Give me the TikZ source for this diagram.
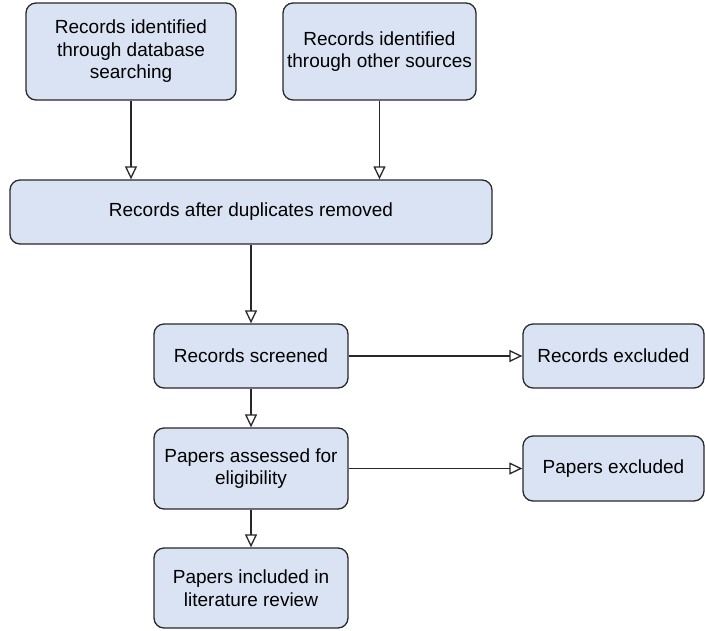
\documentclass[tikz,border=0pt]{standalone}
\usepackage{fontspec}
\setmainfont{Liberation Sans}
\usetikzlibrary{arrows.meta}
\definecolor{boxfill}{RGB}{218,227,243}
\definecolor{boxline}{RGB}{40,40,40}
\begin{document}
\begin{tikzpicture}[x=1pt,y=-1pt,
  flowbox/.style={draw=boxline,fill=boxfill,line width=1.3pt,rounded corners=10pt,
    align=center,inner sep=0pt,font=\fontsize{19}{22.5}\selectfont},
  flowarrow/.style={draw=boxline,line width=1.3pt,
    -{Triangle[open,length=13pt,width=12pt,line width=1.3pt]}}]
\useasboundingbox (0,0) rectangle (705,630);
% identification
\node[flowbox,minimum width=210pt,minimum height=97pt] (db) at (131,51.5)
  {Records identified\\through database\\searching};
\node[flowbox,minimum width=193pt,minimum height=97pt] (other) at (379.5,51.5)
  {Records identified\\through other sources};
\node[flowbox,minimum width=482pt,minimum height=64pt] (dup) at (251,212)
  {Records after duplicates removed};
% screening
\node[flowbox,minimum width=194pt,minimum height=64pt] (screen) at (251,356)
  {Records screened};
\node[flowbox,minimum width=181pt,minimum height=64pt] (rexcl) at (613.5,356)
  {Records excluded};
% eligibility
\node[flowbox,minimum width=194pt,minimum height=81pt] (elig) at (251,468.5)
  {Papers assessed for\\eligibility};
\node[flowbox,minimum width=181pt,minimum height=65pt] (pexcl) at (613.5,468.5)
  {Papers excluded};
% included
\node[flowbox,minimum width=194pt,minimum height=80pt] (incl) at (251,588)
  {Papers included in\\literature review};
% connectors
\draw[flowarrow] (db.south) -- (db.south |- dup.north);
\draw[flowarrow] (other.south) -- (other.south |- dup.north);
\draw[flowarrow] (dup.south) -- (screen.north);
\draw[flowarrow] (screen.east) -- (rexcl.west);
\draw[flowarrow] (screen.south) -- (elig.north);
\draw[flowarrow] (elig.east) -- (pexcl.west);
\draw[flowarrow] (elig.south) -- (incl.north);
\end{tikzpicture}
\end{document}
